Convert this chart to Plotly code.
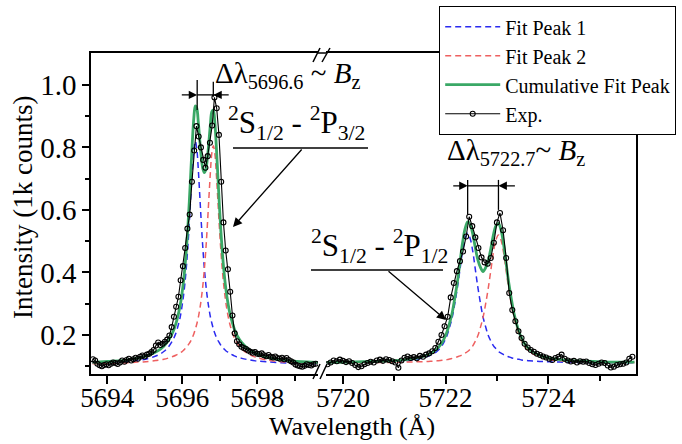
import plotly.graph_objects as go

# ---------------- data ----------------
# fit curves, left window (5696.6 line)
fit_left_x = [5693.61, 5694.01, 5694.41, 5694.81, 5695.11, 5695.35, 5695.51, 5695.63, 5695.75, 5695.83,
              5695.91, 5695.95, 5695.99, 5696.03, 5696.07, 5696.11, 5696.15, 5696.19, 5696.23, 5696.27,
              5696.31, 5696.35, 5696.39, 5696.43, 5696.47, 5696.51, 5696.55, 5696.59, 5696.63, 5696.67,
              5696.71, 5696.75, 5696.79, 5696.83, 5696.87, 5696.91, 5696.95, 5696.99, 5697.03, 5697.07,
              5697.11, 5697.15, 5697.19, 5697.23, 5697.27, 5697.31, 5697.39, 5697.47, 5697.59, 5697.75,
              5697.95, 5698.25, 5698.65, 5699.05, 5699.45, 5699.62]
peak1_left = [0.109, 0.111, 0.113, 0.118, 0.125, 0.135, 0.147, 0.161, 0.183, 0.205,
              0.238, 0.259, 0.287, 0.320, 0.362, 0.415, 0.480, 0.558, 0.644, 0.729,
              0.795, 0.820, 0.795, 0.729, 0.644, 0.558, 0.480, 0.415, 0.362, 0.320,
              0.287, 0.259, 0.238, 0.220, 0.205, 0.193, 0.183, 0.175, 0.167, 0.161,
              0.156, 0.151, 0.147, 0.144, 0.140, 0.138, 0.133, 0.129, 0.125, 0.121,
              0.117, 0.114, 0.111, 0.109, 0.108, 0.108]
peak2_left = [0.108, 0.109, 0.110, 0.113, 0.115, 0.119, 0.122, 0.126, 0.131, 0.135,
              0.140, 0.143, 0.146, 0.150, 0.155, 0.160, 0.166, 0.173, 0.181, 0.191,
              0.203, 0.218, 0.235, 0.256, 0.283, 0.316, 0.357, 0.409, 0.472, 0.548,
              0.633, 0.716, 0.781, 0.805, 0.781, 0.716, 0.633, 0.548, 0.472, 0.409,
              0.357, 0.316, 0.283, 0.256, 0.235, 0.218, 0.191, 0.173, 0.155, 0.140,
              0.129, 0.120, 0.114, 0.111, 0.110, 0.109]
cum_left = [0.112, 0.115, 0.118, 0.126, 0.135, 0.149, 0.164, 0.182, 0.209, 0.235,
            0.273, 0.297, 0.328, 0.365, 0.412, 0.470, 0.541, 0.626, 0.720, 0.815,
            0.893, 0.933, 0.925, 0.880, 0.822, 0.769, 0.732, 0.719, 0.729, 0.763,
            0.815, 0.870, 0.914, 0.920, 0.881, 0.804, 0.711, 0.618, 0.534, 0.465,
            0.408, 0.362, 0.325, 0.295, 0.270, 0.251, 0.219, 0.197, 0.175, 0.156,
            0.141, 0.129, 0.120, 0.115, 0.113, 0.112]

# fit curves, right window (5722.7 line)
fit_right_x = [5719.68, 5720.13, 5720.53, 5720.93, 5721.23, 5721.43, 5721.63, 5721.73, 5721.83, 5721.93,
               5721.98, 5722.03, 5722.08, 5722.13, 5722.18, 5722.23, 5722.28, 5722.33, 5722.38, 5722.43,
               5722.48, 5722.53, 5722.58, 5722.63, 5722.68, 5722.73, 5722.78, 5722.83, 5722.88, 5722.93,
               5722.98, 5723.03, 5723.08, 5723.13, 5723.18, 5723.23, 5723.28, 5723.33, 5723.38, 5723.43,
               5723.48, 5723.53, 5723.63, 5723.73, 5723.83, 5723.93, 5724.03, 5724.23, 5724.43, 5724.73,
               5725.03, 5725.33, 5725.68]
peak1_right = [0.111, 0.112, 0.113, 0.115, 0.117, 0.122, 0.130, 0.137, 0.147, 0.166,
               0.181, 0.199, 0.226, 0.257, 0.301, 0.351, 0.409, 0.467, 0.508, 0.525,
               0.508, 0.467, 0.409, 0.351, 0.301, 0.257, 0.226, 0.199, 0.181, 0.166,
               0.156, 0.147, 0.142, 0.137, 0.133, 0.130, 0.127, 0.125, 0.123, 0.122,
               0.120, 0.119, 0.117, 0.116, 0.115, 0.115, 0.114, 0.113, 0.112, 0.112,
               0.112, 0.111, 0.111]
peak2_right = [0.111, 0.111, 0.112, 0.112, 0.113, 0.114, 0.115, 0.116, 0.117, 0.119,
               0.120, 0.121, 0.123, 0.125, 0.127, 0.130, 0.133, 0.137, 0.142, 0.147,
               0.155, 0.165, 0.180, 0.198, 0.225, 0.256, 0.299, 0.348, 0.405, 0.463,
               0.504, 0.520, 0.504, 0.463, 0.405, 0.348, 0.299, 0.256, 0.225, 0.198,
               0.180, 0.165, 0.147, 0.137, 0.130, 0.125, 0.121, 0.117, 0.115, 0.114,
               0.112, 0.112, 0.112]
cum_right = [0.112, 0.113, 0.115, 0.117, 0.121, 0.126, 0.135, 0.143, 0.155, 0.175,
             0.191, 0.211, 0.239, 0.272, 0.318, 0.370, 0.432, 0.494, 0.540, 0.562,
             0.553, 0.522, 0.479, 0.439, 0.416, 0.403, 0.415, 0.437, 0.475, 0.519,
             0.549, 0.557, 0.536, 0.490, 0.428, 0.368, 0.316, 0.271, 0.238, 0.210,
             0.190, 0.174, 0.154, 0.143, 0.135, 0.129, 0.126, 0.121, 0.118, 0.116,
             0.114, 0.113, 0.113]

# experimental spectrum
exp_left_x = [5693.62, 5693.68, 5693.74, 5693.80, 5693.86, 5693.92, 5693.98, 5694.04, 5694.10, 5694.16,
              5694.22, 5694.28, 5694.34, 5694.40, 5694.46, 5694.52, 5694.58, 5694.64, 5694.70, 5694.76,
              5694.82, 5694.88, 5694.94, 5695.00, 5695.06, 5695.12, 5695.18, 5695.24, 5695.30, 5695.36,
              5695.42, 5695.48, 5695.54, 5695.60, 5695.66, 5695.72, 5695.78, 5695.84, 5695.90, 5695.96,
              5696.02, 5696.08, 5696.14, 5696.20, 5696.26, 5696.32, 5696.38, 5696.44, 5696.50, 5696.56,
              5696.62, 5696.68, 5696.74, 5696.80, 5696.86, 5696.92, 5696.98, 5697.04, 5697.10, 5697.16,
              5697.22, 5697.28, 5697.34, 5697.40, 5697.46, 5697.52, 5697.58, 5697.64, 5697.70, 5697.76,
              5697.82, 5697.88, 5697.94, 5698.00, 5698.06, 5698.12, 5698.18, 5698.24, 5698.30, 5698.36,
              5698.42, 5698.48, 5698.54, 5698.60, 5698.66, 5698.72, 5698.78, 5698.84, 5698.90, 5698.96,
              5699.02, 5699.08, 5699.14, 5699.20, 5699.26, 5699.32, 5699.38, 5699.44, 5699.50, 5699.56]
exp_left_y = [0.122, 0.118, 0.108, 0.103, 0.100, 0.104, 0.106, 0.103, 0.108, 0.112,
              0.110, 0.107, 0.112, 0.118, 0.114, 0.120, 0.124, 0.118, 0.122, 0.127,
              0.124, 0.130, 0.134, 0.131, 0.137, 0.140, 0.145, 0.152, 0.166, 0.176,
              0.168, 0.172, 0.178, 0.185, 0.198, 0.225, 0.258, 0.290, 0.322, 0.375,
              0.420, 0.478, 0.540, 0.585, 0.690, 0.790, 0.868, 0.835, 0.800, 0.760,
              0.735, 0.772, 0.815, 0.870, 0.960, 0.925, 0.840, 0.690, 0.560, 0.470,
              0.410, 0.338, 0.262, 0.205, 0.180, 0.170, 0.162, 0.158, 0.155, 0.150,
              0.146, 0.143, 0.145, 0.140, 0.138, 0.141, 0.135, 0.132, 0.136, 0.130,
              0.128, 0.131, 0.126, 0.124, 0.127, 0.122, 0.126, 0.120, 0.116, 0.112,
              0.105, 0.102, 0.100, 0.098, 0.101, 0.106, 0.104, 0.102, 0.106, 0.108]
exp_right_x = [5719.70, 5719.76, 5719.82, 5719.88, 5719.94, 5720.00, 5720.06, 5720.12, 5720.18, 5720.24,
               5720.30, 5720.36, 5720.42, 5720.48, 5720.54, 5720.60, 5720.66, 5720.72, 5720.78, 5720.84,
               5720.90, 5720.96, 5721.02, 5721.08, 5721.14, 5721.20, 5721.26, 5721.32, 5721.38, 5721.44,
               5721.50, 5721.56, 5721.62, 5721.68, 5721.74, 5721.80, 5721.86, 5721.92, 5721.98, 5722.04,
               5722.10, 5722.16, 5722.22, 5722.28, 5722.34, 5722.40, 5722.46, 5722.52, 5722.58, 5722.64,
               5722.70, 5722.76, 5722.82, 5722.88, 5722.94, 5723.00, 5723.06, 5723.12, 5723.18, 5723.24,
               5723.30, 5723.36, 5723.42, 5723.48, 5723.54, 5723.60, 5723.66, 5723.72, 5723.78, 5723.84,
               5723.90, 5723.96, 5724.02, 5724.08, 5724.14, 5724.20, 5724.26, 5724.32, 5724.38, 5724.44,
               5724.50, 5724.56, 5724.62, 5724.68, 5724.74, 5724.80, 5724.86, 5724.92, 5724.98, 5725.04,
               5725.10, 5725.16, 5725.22, 5725.28, 5725.34, 5725.40, 5725.46, 5725.52, 5725.58, 5725.64]
exp_right_y = [0.106, 0.112, 0.118, 0.116, 0.121, 0.117, 0.113, 0.116, 0.110, 0.104,
               0.097, 0.100, 0.106, 0.110, 0.114, 0.112, 0.118, 0.121, 0.117, 0.122,
               0.120, 0.116, 0.112, 0.095, 0.118, 0.127, 0.131, 0.126, 0.129, 0.125,
               0.133, 0.130, 0.137, 0.141, 0.148, 0.158, 0.178, 0.200, 0.228, 0.258,
               0.320, 0.366, 0.404, 0.436, 0.467, 0.515, 0.578, 0.548, 0.512, 0.478,
               0.448, 0.432, 0.428, 0.446, 0.495, 0.560, 0.590, 0.535, 0.446, 0.334,
               0.280, 0.244, 0.212, 0.190, 0.172, 0.160, 0.152, 0.146, 0.140, 0.136,
               0.131, 0.128, 0.124, 0.120, 0.126, 0.130, 0.137, 0.124, 0.118, 0.115,
               0.117, 0.112, 0.116, 0.114, 0.115, 0.110, 0.106, 0.104, 0.108, 0.112,
               0.110, 0.102, 0.096, 0.098, 0.104, 0.106, 0.108, 0.112, 0.124, 0.130]

# ticks
x_ticks_left = [5694, 5696, 5698]
x_minor_left = [5695, 5697, 5699]
x_ticks_right = [5720, 5722, 5724]
x_minor_right = [5721, 5723, 5725]
y_ticks = [0.2, 0.4, 0.6, 0.8, 1.0]
y_tick_text = ["0.2", "0.4", "0.6", "0.8", "1.0"]
y_minor = [0.1, 0.3, 0.5, 0.7, 0.9]

# splitting of the two lines (peak positions used for Δλ markers)
split_left = [5696.40, 5696.83]
split_right = [5722.43, 5723.03]

# ---------------- style ----------------
FONT = "Liberation Serif, Times New Roman, serif"
BLUE = "#2a2af0"
RED = "#ee6060"
GREEN = "#3aa866"
W, H = 682, 444
ML, MR, MT, MB = 91, 46, 53, 70
PW, PH = W - ML - MR, H - MT - MB


def px(xp):
    return (xp - ML) / PW


def py(yp):
    return (H - MB - yp) / PH


fig = go.Figure()

segments = [
    ("x", "y", fit_left_x, peak1_left, peak2_left, cum_left, exp_left_x, exp_left_y, True),
    ("x2", "y2", fit_right_x, peak1_right, peak2_right, cum_right, exp_right_x, exp_right_y, False),
]
for xa, ya, fx, p1, p2, cm, ex, ey, show in segments:
    fig.add_trace(go.Scatter(x=fx, y=p1, xaxis=xa, yaxis=ya, mode="lines", name="Fit Peak 1",
                             legendgroup="p1", showlegend=show, line_shape="spline",
                             line=dict(color=BLUE, width=1.5, dash="6px,4px")))
    fig.add_trace(go.Scatter(x=fx, y=p2, xaxis=xa, yaxis=ya, mode="lines", name="Fit Peak 2",
                             legendgroup="p2", showlegend=show, line_shape="spline",
                             line=dict(color=RED, width=1.5, dash="6px,4px")))
    fig.add_trace(go.Scatter(x=fx, y=cm, xaxis=xa, yaxis=ya, mode="lines", name="Cumulative Fit Peak",
                             legendgroup="cm", showlegend=show, line_shape="spline",
                             line=dict(color=GREEN, width=2.8)))
    fig.add_trace(go.Scatter(x=ex, y=ey, xaxis=xa, yaxis=ya, mode="lines+markers", name="Exp.",
                             legendgroup="ex", showlegend=show,
                             line=dict(color="black", width=1.1),
                             marker=dict(symbol="circle-open", size=5, color="black",
                                         line=dict(width=1.1, color="black"))))

axis_common = dict(showgrid=False, zeroline=False, showline=True, linecolor="black", linewidth=1.5,
                   ticks="outside", tickcolor="black", tickwidth=1.5,
                   tickfont=dict(family=FONT, size=27, color="black"))

fig.update_layout(
    width=W, height=H, autosize=False,
    margin=dict(l=ML, r=MR, t=MT, b=MB, autoexpand=False),
    paper_bgcolor="white", plot_bgcolor="white",
    font=dict(family=FONT, color="black"),
    xaxis=dict(domain=[0, 0.4165], range=[5693.57, 5699.62], anchor="y", mirror=True,
               tickmode="array", tickvals=x_ticks_left, ticktext=[str(v) for v in x_ticks_left], ticklen=8,
               ticklabelstandoff=-9,
               minor=dict(tickvals=x_minor_left, ticks="outside", ticklen=5, tickwidth=1.5, tickcolor="black"),
               **axis_common),
    xaxis2=dict(domain=[0.4312, 1], range=[5719.67, 5725.71], anchor="y2", mirror=True,
                tickmode="array", tickvals=x_ticks_right, ticktext=[str(v) for v in x_ticks_right], ticklen=8,
                ticklabelstandoff=-9,
                minor=dict(tickvals=x_minor_right, ticks="outside", ticklen=5, tickwidth=1.5, tickcolor="black"),
                **axis_common),
    yaxis=dict(range=[0.075, 1.102], anchor="x",
               tickmode="array", tickvals=y_ticks, ticktext=y_tick_text, ticklen=7,
               minor=dict(tickvals=y_minor, ticks="outside", ticklen=4, tickwidth=1.5, tickcolor="black"),
               **{**axis_common, "tickfont": dict(family=FONT, size=29, color="black")}),
    yaxis2=dict(range=[0.075, 1.102], anchor="x2", side="right", matches="y",
                showgrid=False, zeroline=False, showline=True, linecolor="black", linewidth=1.5,
                showticklabels=False, ticks=""),
    legend=dict(x=px(439), y=py(6), xanchor="left", yanchor="top",
                bgcolor="white", bordercolor="black", borderwidth=1.2,
                font=dict(family=FONT, size=20, color="black"),
                tracegroupgap=0, itemwidth=55),
    showlegend=True,
)

shapes = []
# axis break marks
for (x0, y0, x1, y1) in [(313, 379, 320, 364), (320, 379, 327, 364), (313, 62, 320, 48), (322, 62, 330, 48)]:
    shapes.append(dict(type="line", xref="paper", yref="paper", x0=px(x0), y0=py(y0), x1=px(x1), y1=py(y1),
                       line=dict(color="black", width=1.5)))
# continue the top frame across the break
shapes.append(dict(type="line", xref="paper", yref="paper", x0=0.4165, y0=1, x1=0.4312, y1=1,
                   line=dict(color="black", width=1.5)))
# underlines of the transition labels
shapes.append(dict(type="line", xref="paper", yref="paper", x0=px(233), y0=py(148), x1=px(368), y1=py(148),
                   line=dict(color="black", width=1.3)))
shapes.append(dict(type="line", xref="paper", yref="paper", x0=px(311), y0=py(270), x1=px(443), y1=py(270),
                   line=dict(color="black", width=1.3)))
# splitting markers (vertical lines and central bar)
shapes += [
    dict(type="line", xref="x", yref="y", x0=split_left[0], x1=split_left[0], y0=0.92, y1=1.016,
         line=dict(color="black", width=1.3)),
    dict(type="line", xref="x", yref="y", x0=split_left[1], x1=split_left[1], y0=0.962, y1=1.01,
         line=dict(color="black", width=1.3)),
    dict(type="line", xref="x", yref="y", x0=split_left[0], x1=split_left[1], y0=0.968, y1=0.968,
         line=dict(color="black", width=1.3)),
    dict(type="line", xref="x2", yref="y2", x0=split_right[0], x1=split_right[0], y0=0.585, y1=0.696,
         line=dict(color="black", width=1.3)),
    dict(type="line", xref="x2", yref="y2", x0=split_right[1], x1=split_right[1], y0=0.60, y1=0.696,
         line=dict(color="black", width=1.3)),
    dict(type="line", xref="x2", yref="y2", x0=split_right[0], x1=split_right[1], y0=0.677, y1=0.677,
         line=dict(color="black", width=1.3)),
]
fig.update_layout(shapes=shapes)

ann = []
# inward arrows of the splitting markers
for xr, yr, tip, tail, yv in [("x", "y", split_left[0], 5695.95, 0.968), ("x", "y", split_left[1], 5697.28, 0.968),
                              ("x2", "y2", split_right[0], 5722.12, 0.677), ("x2", "y2", split_right[1], 5723.38, 0.677)]:
    ann.append(dict(xref=xr, yref=yr, x=tip, y=yv, axref=xr, ayref=yr, ax=tail, ay=yv, text="",
                    showarrow=True, arrowhead=2, arrowsize=1.3, arrowwidth=1.3, arrowcolor="black", standoff=0))
# pointer arrows
ann.append(dict(xref="paper", yref="paper", x=px(233), y=py(227), ax=70, ay=-79, text="",
                showarrow=True, arrowhead=2, arrowsize=1.4, arrowwidth=1.3, arrowcolor="black", standoff=0))
ann.append(dict(xref="paper", yref="paper", x=px(446), y=py(320), ax=-59, ay=-50, text="",
                showarrow=True, arrowhead=2, arrowsize=1.4, arrowwidth=1.3, arrowcolor="black", standoff=0))
# text labels
ann += [
    dict(xref="paper", yref="paper", x=px(213), y=py(95), xanchor="left", yanchor="bottom", showarrow=False,
         text="Δλ<sub>5696.6</sub> ~ <i>B</i><sub>z</sub>", font=dict(family=FONT, size=29, color="black")),
    dict(xref="paper", yref="paper", x=px(226), y=py(147), xanchor="left", yanchor="bottom", showarrow=False,
         text="<sup>2</sup>S<sub>1/2</sub> - <sup>2</sup>P<sub>3/2</sub>", font=dict(family=FONT, size=31, color="black")),
    dict(xref="paper", yref="paper", x=px(445), y=py(172), xanchor="left", yanchor="bottom", showarrow=False,
         text="Δλ<sub>5722.7</sub>~ <i>B</i><sub>z</sub>", font=dict(family=FONT, size=29, color="black")),
    dict(xref="paper", yref="paper", x=px(309), y=py(270), xanchor="left", yanchor="bottom", showarrow=False,
         text="<sup>2</sup>S<sub>1/2</sub> - <sup>2</sup>P<sub>1/2</sub>", font=dict(family=FONT, size=31, color="black")),
    # axis titles
    dict(xref="paper", yref="paper", x=px(352), y=py(426), xanchor="center", yanchor="middle", showarrow=False,
         text="Wavelength (Å)", font=dict(family=FONT, size=26, color="black")),
    dict(xref="paper", yref="paper", x=px(23), y=py(208), xanchor="center", yanchor="middle", showarrow=False,
         textangle=-90, text="Intensity (1k counts)", font=dict(family=FONT, size=27, color="black")),
]
fig.update_layout(annotations=ann)

fig.write_html("out.html")
